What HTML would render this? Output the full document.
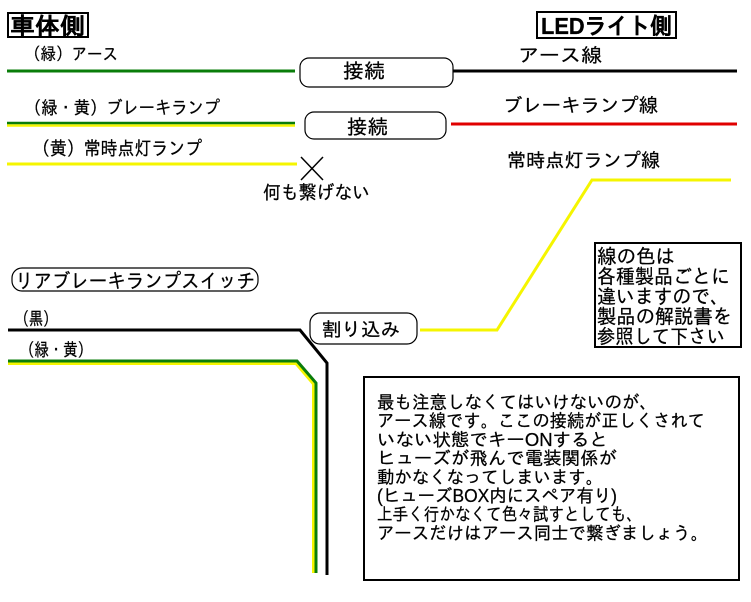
<!DOCTYPE html>
<html><head><meta charset="utf-8">
<style>
html,body{margin:0;padding:0;background:#fff;}
svg{display:block;}
text{font-family:"Liberation Sans","IPAGothic","Noto Sans CJK JP",sans-serif;fill:#000;stroke:#000;stroke-width:0.25;}
</style></head>
<body>
<svg width="751" height="602" viewBox="0 0 751 602" xmlns="http://www.w3.org/2000/svg">
<rect x="0" y="0" width="751" height="602" fill="#fff"/>

<!-- Headers -->
<rect x="8" y="13" width="80" height="24" fill="none" stroke="#000" stroke-width="2"/>
<text x="10" y="34" font-size="23" font-weight="bold" textLength="75" lengthAdjust="spacingAndGlyphs">車体側</text>
<rect x="537" y="12" width="139" height="26" fill="none" stroke="#000" stroke-width="2"/>
<text x="541" y="34" font-size="23" font-weight="bold" textLength="131" lengthAdjust="spacingAndGlyphs">LEDライト側</text>

<!-- Left labels -->
<text x="25" y="60" font-size="17" textLength="93" lengthAdjust="spacingAndGlyphs">（緑）アース</text>
<text x="25" y="114" font-size="18" textLength="195" lengthAdjust="spacingAndGlyphs">（緑・黄）ブレーキランプ</text>
<text x="33" y="155" font-size="19" textLength="169" lengthAdjust="spacingAndGlyphs">（黄）常時点灯ランプ</text>
<text x="263" y="199" font-size="19" textLength="107" lengthAdjust="spacingAndGlyphs">何も繋げない</text>

<!-- Right labels -->
<text x="518" y="62" font-size="19" textLength="84" lengthAdjust="spacingAndGlyphs">アース線</text>
<text x="503" y="112" font-size="19" textLength="155" lengthAdjust="spacingAndGlyphs">ブレーキランプ線</text>
<text x="507" y="167" font-size="19" textLength="153" lengthAdjust="spacingAndGlyphs">常時点灯ランプ線</text>

<!-- Wires top -->
<line x1="7" y1="71" x2="295" y2="71" stroke="#0a7d0a" stroke-width="3"/>
<line x1="453" y1="71" x2="737" y2="71" stroke="#000" stroke-width="3"/>
<line x1="7" y1="125.5" x2="295" y2="125.5" stroke="#f5f500" stroke-width="2.5"/>
<line x1="7" y1="123" x2="295" y2="123" stroke="#0a7d0a" stroke-width="2.5"/>
<line x1="451" y1="124" x2="737" y2="124" stroke="#e00000" stroke-width="3"/>
<line x1="7" y1="164" x2="297" y2="164" stroke="#f5f500" stroke-width="3"/>

<!-- X mark -->
<line x1="301" y1="157" x2="323" y2="180" stroke="#000" stroke-width="1.5"/>
<line x1="323" y1="157" x2="301" y2="180" stroke="#000" stroke-width="1.5"/>

<!-- Connect boxes -->
<rect x="300" y="58" width="153" height="29" rx="9" fill="#fff" stroke="#000" stroke-width="1.2"/>
<text x="343" y="78" font-size="20" textLength="42" lengthAdjust="spacingAndGlyphs">接続</text>
<rect x="305" y="112" width="141" height="27" rx="9" fill="#fff" stroke="#000" stroke-width="1.2"/>
<text x="347" y="134" font-size="20" textLength="41" lengthAdjust="spacingAndGlyphs">接続</text>

<!-- Yellow right polyline -->
<polyline points="731,180 592,180 497,330 420,330" fill="none" stroke="#f5f500" stroke-width="3"/>

<!-- Rear brake switch -->
<rect x="12" y="268" width="246" height="23" rx="10" fill="#fff" stroke="#000" stroke-width="1.2"/>
<text x="15" y="288" font-size="20" textLength="240" lengthAdjust="spacingAndGlyphs">リアブレーキランプスイッチ</text>
<text x="15" y="325" font-size="18" textLength="42" lengthAdjust="spacingAndGlyphs">（黒）</text>
<text x="20" y="356" font-size="18" textLength="72" lengthAdjust="spacingAndGlyphs">（緑・黄）</text>

<polyline points="8,330 300,330 327,363 327,575" fill="none" stroke="#000" stroke-width="3"/>
<polyline points="8,363.5 296,363.5 313.5,384 313.5,573" fill="none" stroke="#f5f500" stroke-width="3"/>
<polyline points="8,361 297,361 316,383 316,573" fill="none" stroke="#0a7d0a" stroke-width="3"/>

<!-- Interrupt box -->
<rect x="310" y="313" width="107" height="31" rx="10" fill="#fff" stroke="#000" stroke-width="1.2"/>
<text x="322" y="336" font-size="19" textLength="78" lengthAdjust="spacingAndGlyphs">割り込み</text>

<!-- Note box right -->
<rect x="595" y="243" width="146" height="104" fill="#fff" stroke="#000" stroke-width="2"/>
<text x="597" y="263.5" font-size="20" textLength="78" lengthAdjust="spacingAndGlyphs">線の色は</text>
<text x="597" y="283.5" font-size="20" textLength="133" lengthAdjust="spacingAndGlyphs">各種製品ごとに</text>
<text x="597" y="303.5" font-size="20" textLength="132" lengthAdjust="spacingAndGlyphs">違いますので、</text>
<text x="597" y="323.5" font-size="20" textLength="135" lengthAdjust="spacingAndGlyphs">製品の解説書を</text>
<text x="597" y="343.5" font-size="20" textLength="128" lengthAdjust="spacingAndGlyphs">参照して下さい</text>

<!-- Big note box -->
<rect x="364" y="377" width="375" height="203" fill="#fff" stroke="#000" stroke-width="2"/>
<text x="377" y="408.5" font-size="18" textLength="280" lengthAdjust="spacingAndGlyphs">最も注意しなくてはいけないのが、</text>
<text x="377" y="427.2" font-size="18" textLength="328" lengthAdjust="spacingAndGlyphs">アース線です。ここの接続が正しくされて</text>
<text x="377" y="445.9" font-size="18" textLength="231" lengthAdjust="spacingAndGlyphs">いない状態でキーONすると</text>
<text x="377" y="464.6" font-size="18" textLength="240" lengthAdjust="spacingAndGlyphs">ヒューズが飛んで電装関係が</text>
<text x="377" y="483.3" font-size="18" textLength="226" lengthAdjust="spacingAndGlyphs">動かなくなってしまいます。</text>
<text x="377" y="502" font-size="18" textLength="240" lengthAdjust="spacingAndGlyphs">(ヒューズBOX内にスペア有り)</text>
<text x="377" y="520.7" font-size="18" textLength="265" lengthAdjust="spacingAndGlyphs">上手く行かなくて色々試すとしても、</text>
<text x="377" y="539.4" font-size="18" textLength="331" lengthAdjust="spacingAndGlyphs">アースだけはアース同士で繋ぎましょう。</text>
</svg>
</body></html>
